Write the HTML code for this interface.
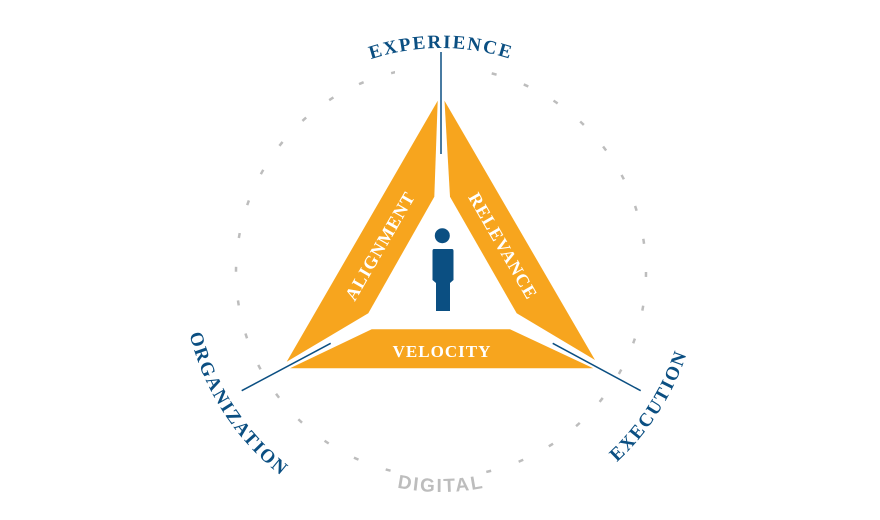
<!DOCTYPE html>
<html><head><meta charset="utf-8"><style>
html,body{margin:0;padding:0;background:#fff;}
svg{display:block}
</style></head><body>
<svg width="880" height="520" viewBox="0 0 880 520" xmlns="http://www.w3.org/2000/svg">
<defs>
<path id="ptop" d="M217,272 A224,224 0 0 1 665,272"/>
<path id="pbot" d="M221,272 A220,220 0 0 0 661,272"/>
<path id="porg" d="M210.2,154.4 A259,259 0 0 0 454.5,530.6"/>
<path id="pexe" d="M428.8,530.7 A259,259 0 0 0 671.1,153.2"/>
</defs>
<circle cx="441" cy="272" r="205" fill="none" stroke="#bdbdbd" stroke-width="2.5" stroke-dasharray="5 28.9"/>
<rect x="395" y="55" width="92" height="30" fill="#fff"/>
<rect x="398" y="466" width="88" height="20" fill="#fff"/>
<polygon points="437.7,100.7 434.3,196.7 368.3,313.3 286.7,361.7" fill="#f7a51e"/>
<polygon points="444.5,100.7 450,196.7 516.7,313.3 595,360" fill="#f7a51e"/>
<polygon points="371.7,329.3 510,329.3 593.3,368.3 290,368.3" fill="#f7a51e"/>
<line x1="441" y1="52" x2="441" y2="154" stroke="#0b4f82" stroke-width="1.5"/>
<line x1="241.7" y1="390.7" x2="330.7" y2="343.3" stroke="#0b4f82" stroke-width="1.5"/>
<line x1="552.7" y1="343.3" x2="640.7" y2="390.7" stroke="#0b4f82" stroke-width="1.5"/>
<circle cx="442.3" cy="235.7" r="7.5" fill="#0b4f82"/>
<path d="M434,249 H452 Q453.5,249 453.5,251 V280 L450,283 V311 H436 V283 L432.5,280 V251 Q432.5,249 434,249 Z" fill="#0b4f82"/>
<g font-family="'Liberation Serif',serif" font-weight="bold" fill="#fff" font-size="18" letter-spacing="1" text-anchor="middle">
<text transform="translate(380,246) rotate(-60)" dy="6">ALIGNMENT</text>
<text transform="translate(503,246) rotate(60)" dy="6">RELEVANCE</text>
<text x="442" y="357" font-size="17">VELOCITY</text>
</g>
<g font-family="'Liberation Serif',serif" font-weight="bold" fill="#0b4f82" font-size="19" letter-spacing="1.8" text-anchor="middle">
<text><textPath href="#ptop" startOffset="50%">EXPERIENCE</textPath></text>
<text><textPath href="#porg" startOffset="50%">ORGANIZATION</textPath></text>
<text><textPath href="#pexe" startOffset="50%">EXECUTION</textPath></text>
</g>
<text font-family="'Liberation Sans',sans-serif" font-weight="bold" fill="#bdbdbd" font-size="19" letter-spacing="2" text-anchor="middle"><textPath href="#pbot" startOffset="50%">DIGITAL</textPath></text>
</svg>
</body></html>
